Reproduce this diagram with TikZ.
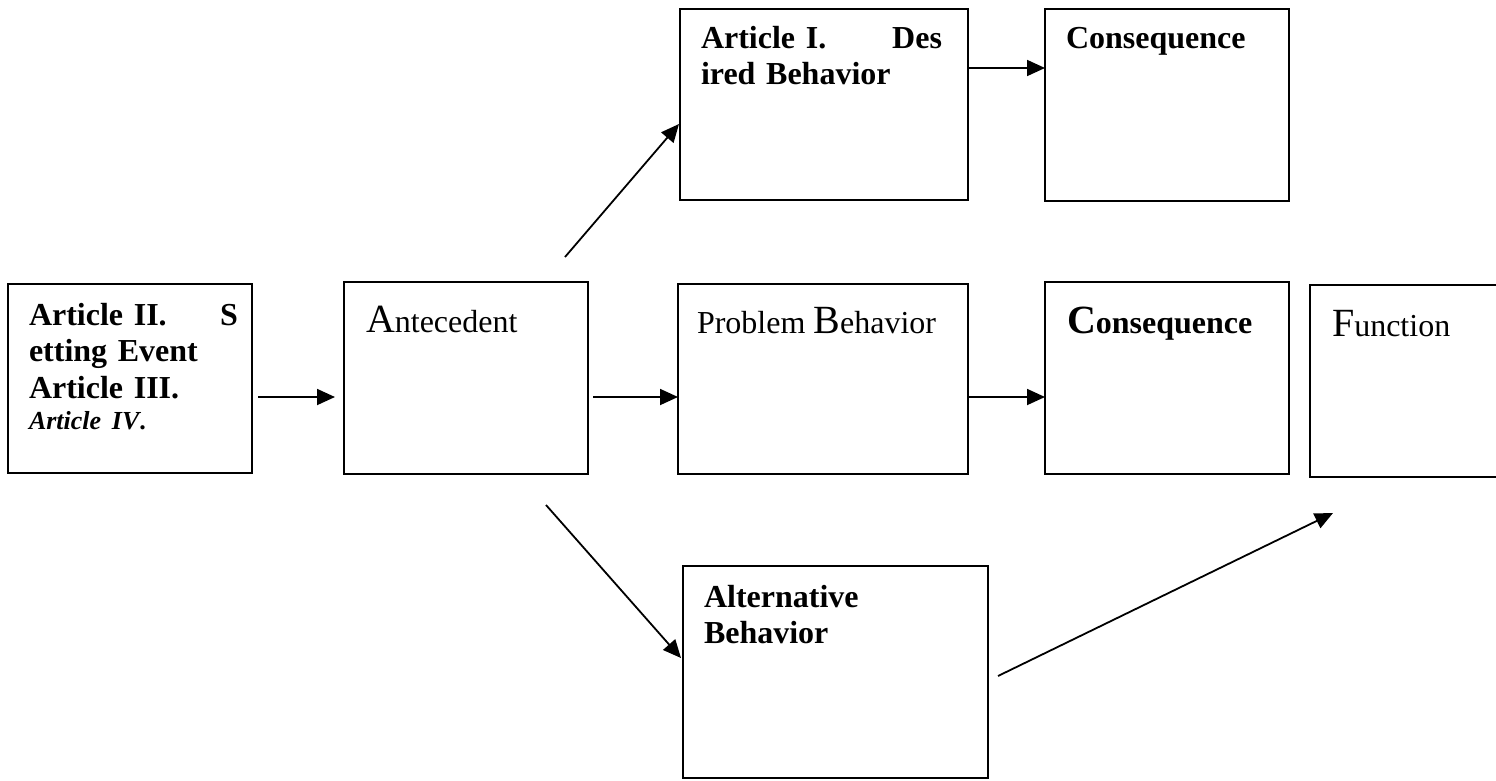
\documentclass[tikz,border=0pt]{standalone}
\usepackage{fontspec}
\setmainfont{Liberation Serif}
\usetikzlibrary{arrows.meta,calc}
\tikzset{
  box/.style={draw, line width=2.3pt, rectangle, anchor=north west, inner sep=0pt, outer sep=0pt},
  txt/.style={anchor=base west, inner sep=0pt, outer sep=0pt, font=\fontsize{32}{36.5}\selectfont},
  mtxt/.style={txt, align=left},
  arr/.style={line width=1.8pt, -{Triangle[length=18pt,width=16pt]}},
}
\newcommand{\bigini}[1]{{\fontsize{40}{40}\selectfont #1}}
\begin{document}
\begin{tikzpicture}[x=1pt,y=-1pt]
\useasboundingbox (0,0) rectangle (1496,780);
\fill[white] (0,0) rectangle (1496,780);
\clip (0,0) rectangle (1496,780);
% boxes
\node[box, minimum width=244pt, minimum height=189pt] (set) at (8,284) {};
\node[box, minimum width=244pt, minimum height=192pt] (ant) at (344,282) {};
\node[box, minimum width=288pt, minimum height=191pt] (des) at (680,9) {};
\node[box, minimum width=244pt, minimum height=192pt] (ct) at (1045,9) {};
\node[box, minimum width=290pt, minimum height=190pt] (prob) at (678,284) {};
\node[box, minimum width=244pt, minimum height=192pt] (cm) at (1045,282) {};
\node[box, minimum width=200pt, minimum height=192pt] (fun) at (1310,285) {};
\node[box, minimum width=305pt, minimum height=212pt] (alt) at (683,566) {};
% texts
\node[mtxt, text width=209pt] (sett) at (29,325)
  {\textbf{Article II.\hfill S}\\ \textbf{etting Event}\\ \textbf{Article III.}\\[-5pt]
   {\fontsize{26}{30}\selectfont\textbf{\textit{Article IV}.}}};
\node[txt] (antt) at (366,332) {\bigini{A}ntecedent};
\node[mtxt, text width=241pt] (dest) at (701,48)
  {\textbf{Article I.\hfill Des}\\ \textbf{ired Behavior}};
\node[txt] (ctt) at (1066,48) {\textbf{Consequence}};
\node[txt] (probt) at (697,333) {Problem \bigini{B}ehavior};
\node[txt] (cmt) at (1067,333) {\textbf{\bigini{C}onsequence}};
\node[txt] (funt) at (1332,336) {\bigini{F}unction};
\node[mtxt, text width=240pt] (altt) at (704,607)
  {\textbf{Alternative}\\ \textbf{Behavior}};
% connectors
\coordinate (midrow) at (0,397);
\coordinate (toprow) at (0,68);
\draw[arr] ([xshift=6pt]set.east |- midrow) -- ([xshift=-9pt]ant.west |- midrow);
\draw[arr] ([xshift=5pt]ant.east |- midrow) -- (prob.west |- midrow);
\draw[arr] (prob.east |- midrow) -- (cm.west |- midrow);
\draw[arr] (des.east |- toprow) -- (ct.west |- toprow);
\draw[arr] ($(ant.north east)+(-23,-25)$) -- ($(des.west)+(-1,19.5)$);
\draw[arr] ($(ant.south east)+(-42,31)$) -- ($(alt.west)+(-2,-14)$);
\draw[arr] ($(alt.east)+(10,4)$) -- ($(fun.south west)+(23,36)$);
\end{tikzpicture}
\end{document}
